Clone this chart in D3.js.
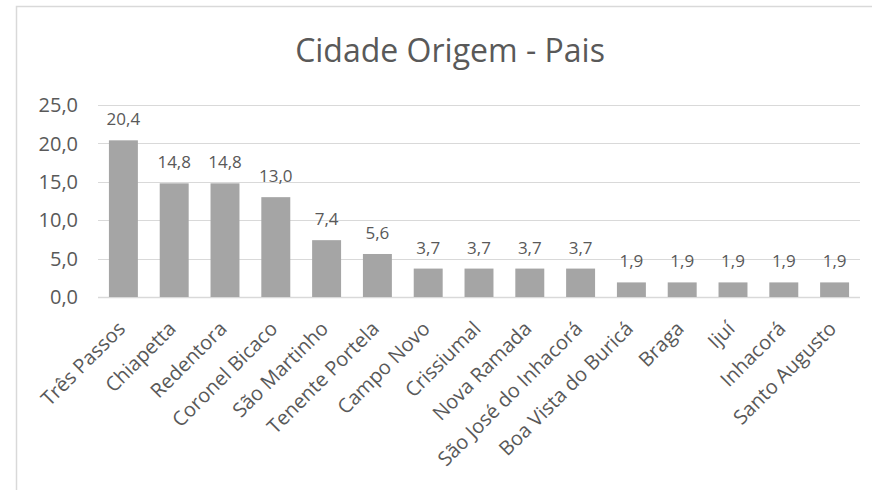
<!DOCTYPE html>
<html>
<head>
<meta charset="utf-8">
<script src="https://cdn.jsdelivr.net/npm/d3@7"></script>
<style>
  body { margin: 0; background: #fff; }
  svg { display: block; }
</style>
</head>
<body>
<div id="chart"></div>
<script>
var cidades = ['Três Passos', 'Chiapetta', 'Redentora', 'Coronel Bicaco', 'São Martinho',
  'Tenente Portela', 'Campo Novo', 'Crissiumal', 'Nova Ramada', 'São José do Inhacorá',
  'Boa Vista do Buricá', 'Braga', 'Ijuí', 'Inhacorá', 'Santo Augusto'];
var percentuais = [20.4, 14.8, 14.8, 13.0, 7.4, 5.6, 3.7, 3.7, 3.7, 3.7, 1.9, 1.9, 1.9, 1.9, 1.9];
var yTicks = [0, 5, 10, 15, 20, 25];
var titulo = 'Cidade Origem - Pais';

var width = 872, height = 490;
var font = '"Open Sans", sans-serif';
var textColor = '#595959';

var svg = d3.select('#chart').append('svg')
  .attr('width', width)
  .attr('height', height);

// chart frame (cut by the window on right/bottom)
svg.append('rect')
  .attr('x', 16.5).attr('y', 6.5)
  .attr('width', 870).attr('height', 500)
  .attr('fill', '#fff')
  .attr('stroke', '#d9d9d9')
  .attr('stroke-width', 1.5);

var plot = { left: 98, right: 860, top: 105, bottom: 297 };

var x = d3.scaleBand()
  .domain(cidades)
  .range([plot.left, plot.right])
  .paddingInner(0.43)
  .paddingOuter(0.215);

var y = d3.scaleLinear()
  .domain([0, 25])
  .range([plot.bottom, plot.top]);

var fmt = function(v) { return d3.format('.1f')(v).replace('.', ','); };

// gridlines
svg.append('g')
  .selectAll('line')
  .data(yTicks)
  .enter().append('line')
  .attr('x1', plot.left)
  .attr('x2', plot.right)
  .attr('y1', function(d) { return Math.round(y(d)) + 0.5; })
  .attr('y2', function(d) { return Math.round(y(d)) + 0.5; })
  .style('stroke', '#d9d9d9')
  .style('stroke-width', function(d) { return d === 0 ? 1.5 : 1; });

// y labels
svg.append('g')
  .selectAll('text')
  .data(yTicks)
  .enter().append('text')
  .attr('x', 78)
  .attr('y', function(d) { return y(d); })
  .attr('dy', '0.36em')
  .attr('text-anchor', 'end')
  .style('font-family', font)
  .style('font-size', '20px')
  .style('fill', textColor)
  .text(function(d) { return fmt(d); });

// bars
svg.append('g')
  .selectAll('rect')
  .data(percentuais)
  .enter().append('rect')
  .attr('x', function(d, i) { return x(cidades[i]); })
  .attr('y', function(d) { return y(d); })
  .attr('width', x.bandwidth())
  .attr('height', function(d) { return y(0) - y(d); })
  .style('fill', '#a5a5a5');

// data labels
svg.append('g')
  .selectAll('text')
  .data(percentuais)
  .enter().append('text')
  .attr('x', function(d, i) { return x(cidades[i]) + x.bandwidth() / 2; })
  .attr('y', function(d) { return y(d) - 15; })
  .attr('text-anchor', 'middle')
  .style('font-family', font)
  .style('font-size', '17px')
  .style('fill', textColor)
  .text(function(d) { return fmt(d); });

// category labels
svg.append('g')
  .selectAll('text')
  .data(cidades)
  .enter().append('text')
  .attr('transform', function(d) {
    return 'translate(' + (x(d) + x.bandwidth() / 2 + 3) + ',330) rotate(-45)';
  })
  .attr('text-anchor', 'end')
  .style('font-family', font)
  .style('font-size', '20px')
  .style('fill', textColor)
  .text(function(d) { return d; });

// title
svg.append('text')
  .attr('x', 450)
  .attr('y', 62)
  .attr('text-anchor', 'middle')
  .style('font-family', font)
  .style('font-size', '32px')
  .style('fill', textColor)
  .text(titulo);
</script>
</body>
</html>
